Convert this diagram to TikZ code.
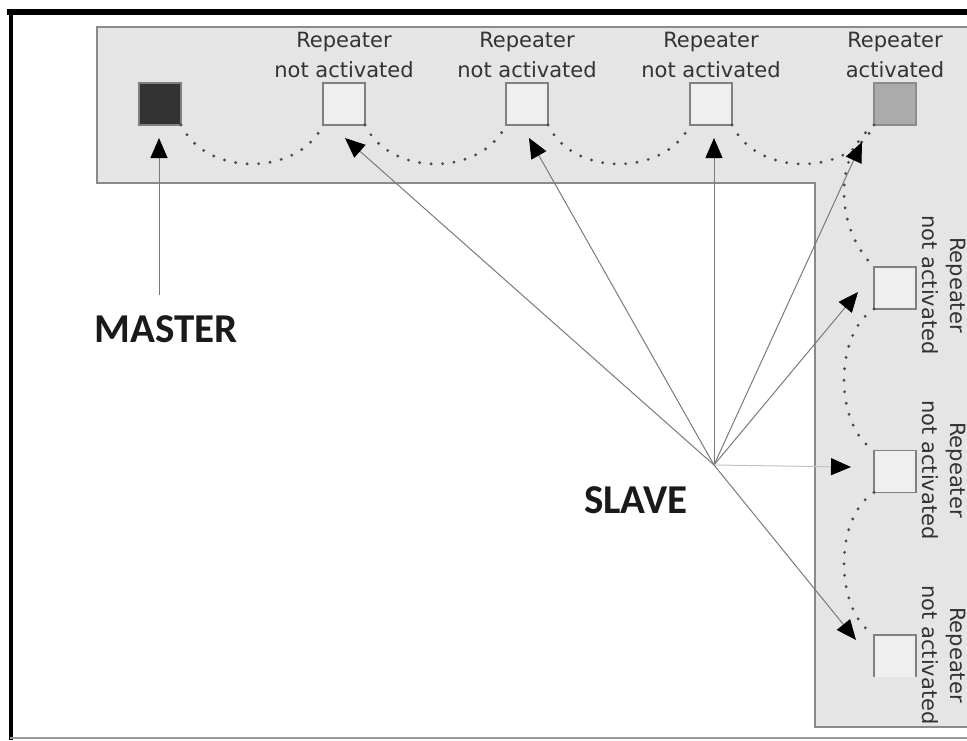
\documentclass[tikz,border=0pt]{standalone}
\usepackage{fontspec}
\newfontfamily\repfont{DejaVu Sans}
\newfontfamily\labfont{Carlito}
\usetikzlibrary{arrows.meta,calc}
\definecolor{labtext}{HTML}{333333}
\definecolor{bigtext}{HTML}{1A1A1A}
\definecolor{raycol}{HTML}{7A7A7A}
\definecolor{raylight}{HTML}{C4C4C4}
\definecolor{dotcol}{HTML}{4A4A4A}
\definecolor{sqedge}{HTML}{808080}
\definecolor{idlefill}{HTML}{EFEFEF}
\definecolor{masterfill}{HTML}{333333}
\definecolor{actfill}{HTML}{ABABAB}
\definecolor{actedge}{HTML}{8C8C8C}
\definecolor{panelfill}{HTML}{E5E5E5}
\definecolor{panelline}{HTML}{8A8A8A}
\definecolor{framegray}{HTML}{9A9A9A}
\begin{document}
\begin{tikzpicture}[x=1pt,y=-1pt,
  sq/.style={draw=sqedge,line width=1.2pt,minimum size=42pt,inner sep=0pt,outer sep=0pt},
  idle/.style={sq,fill=idlefill},
  lab/.style={font=\repfont\fontsize{21}{30}\selectfont,text=labtext,inner sep=0pt,anchor=base},
  rlab/.style={lab,rotate=-90},
  big/.style={font=\labfont\bfseries\fontsize{41}{48}\selectfont,text=bigtext,inner sep=0pt,anchor=base},
  ray/.style={draw=raycol,line width=1pt,-{Triangle[length=20pt,width=17pt,color=black]}},
  chain/.style={draw=dotcol,line width=3.2pt,line cap=round,dash pattern=on 0pt off 11.5pt}]
\useasboundingbox (0,0) rectangle (967,740);
\clip (0,0) rectangle (967,740);
\fill[white] (0,0) rectangle (967,740);
% frame
\draw[line width=6pt,black] (7,11.5) -- (967,11.5);
\draw[line width=4pt,black] (10.5,9) -- (10.5,740);
\draw[line width=2pt,framegray] (10,737.5) -- (967,737.5);
% panel
\draw[draw=panelline,fill=panelfill,line width=1.5pt]
  (97,27) -- (990,27) -- (990,727) -- (815,727) -- (815,183) -- (97,183) -- cycle;
% squares
\node[sq,fill=masterfill] (msq) at (160,104) {};
\node[idle] (r1) at (344,104) {};
\node[idle] (r2) at (527,104) {};
\node[idle] (r3) at (711,104) {};
\node[sq,fill=actfill,draw=actedge] (ra) at (895,104) {};
\node[idle] (s1) at (895,288) {};
\node[idle] (s2) at (895,471.5) {};
\node[sq,fill=idlefill,draw=none] (s3) at (895,656) {};
\draw[draw=sqedge,line width=1.2pt] (s3.south west) -- (s3.north west) -- (s3.north east) -- (s3.south east);
% top labels
\node[lab] (l1a) at (344,47) {Repeater};
\node[lab] (l1b) at (344,77) {not activated};
\node[lab] (l2a) at (527,47) {Repeater};
\node[lab] (l2b) at (527,77) {not activated};
\node[lab] (l3a) at (711,47) {Repeater};
\node[lab] (l3b) at (711,77) {not activated};
\node[lab] (l4a) at (895,47) {Repeater};
\node[lab] (l4b) at (895,77) {activated};
% right labels
\node[rlab] (m1a) at (950.5,285) {Repeater};
\node[rlab] (m1b) at (922,285) {not activated};
\node[rlab] (m2a) at (950.5,470) {Repeater};
\node[rlab] (m2b) at (922,470) {not activated};
\node[rlab] (m3a) at (950.5,655) {Repeater};
\node[rlab] (m3b) at (922,655) {not activated};
% dotted chain
\draw[chain] (msq.south east) .. controls +(25,52) and +(-25,52) .. (r1.south west);
\draw[chain] (r1.south east) .. controls +(25,52) and +(-25,52) .. (r2.south west);
\draw[chain] (r2.south east) .. controls +(25,52) and +(-25,52) .. (r3.south west);
\draw[chain] (r3.south east) .. controls +(25,52) and +(-25,52) .. (ra.south west);
\draw[chain] (ra.south west) .. controls +(-40,30) and +(-40,-40) .. (s1.north west);
\draw[chain] (s1.south west) .. controls +(-40,25) and +(-40,-25) .. (s2.north west);
\draw[chain] (s2.south west) .. controls +(-40,25) and +(-40,-25) .. (s3.north west);
% master / slave
\node[big] (master) at (166.5,342) {MASTER};
\node[big] (slavelab) at (636,513) {SLAVE};
\coordinate (mfoot) at (159,295);
\coordinate (slave) at (714,465);
\draw[ray] (mfoot) -- ($(msq.south)+(-1,13)$);
\draw[ray] (slave) -- ($(r1.south)+(1,13)$);
\draw[ray] (slave) -- ($(r2.south)+(2,13)$);
\draw[ray] (slave) -- ($(r3.south)+(3,13)$);
\draw[ray] (slave) -- ($(ra.south west)+(-12,17)$);
\draw[ray] (slave) -- ($(s1.west)+(-16,4)$);
\draw[ray,draw=raylight] (slave) -- ($(s2.west)+(-23,-4.5)$);
\draw[ray] (slave) -- ($(s3.west)+(-18,-16)$);
\end{tikzpicture}
\end{document}
